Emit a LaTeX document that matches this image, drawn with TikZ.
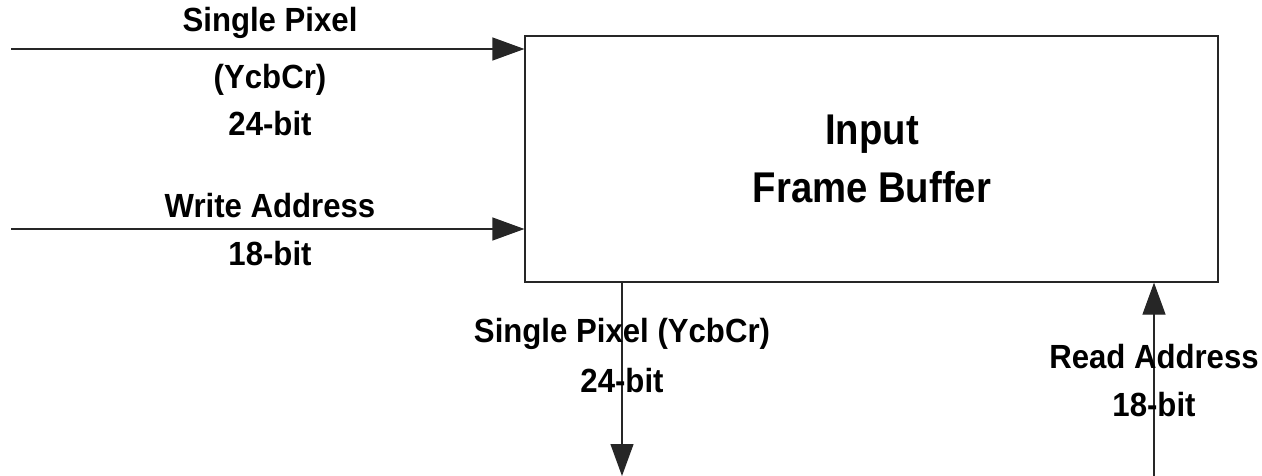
\documentclass[tikz,border=0pt]{standalone}
\usepackage{fontspec}
\setmainfont{Liberation Sans}
\newfontfamily\narrowbold[FakeStretch=0.93]{Liberation Sans Bold}
\newfontfamily\titlebold[FakeStretch=0.89]{Liberation Sans Bold}
\usetikzlibrary{arrows.meta}
\begin{document}
\begin{tikzpicture}[x=1pt,y=-1pt,
  lbl/.style={font=\narrowbold\fontsize{33.5}{38}\selectfont, inner sep=0pt, anchor=base},
  title/.style={font=\titlebold\fontsize{43}{48}\selectfont, inner sep=0pt, anchor=base},
  wire/.style={line width=1.2pt, draw=black!85},
  sig/.style={wire, -{Triangle[length=32pt,width=23pt]}}]
  \useasboundingbox (0,0) rectangle (1262,476);

  % memory block
  \node[draw=black!85, line width=1.2pt, rectangle, minimum width=693pt, minimum height=246pt,
        inner sep=0pt] (buf) at (871.5,159) {};
  \node[title] (t1) at (872,145) {Input};
  \node[title] (t2) at (872,203) {Frame Buffer};

  % write side
  \coordinate (in1) at (11,49);
  \coordinate (in2) at (11,229);
  \draw[sig] (in1) -- (buf.west |- in1);
  \draw[sig] (in2) -- (buf.west |- in2);
  \node[lbl] (l1) at (270,32) {Single Pixel};
  \node[lbl] (l2) at (270,89) {(YcbCr)};
  \node[lbl] (l3) at (270,136) {24-bit};
  \node[lbl] (l4) at (270,218) {Write Address};
  \node[lbl] (l5) at (270,265) {18-bit};

  % pixel output
  \coordinate (out) at (622,476);
  \draw[sig] (buf.south -| out) -- (out);
  \node[lbl] (o1) at (622,342) {Single Pixel (YcbCr)};
  \node[lbl] (o2) at (622,392) {24-bit};

  % read address
  \coordinate (rd) at (1154,476);
  \draw[sig] (rd) -- (buf.south -| rd);
  \node[lbl] (r1) at (1154,368) {Read Address};
  \node[lbl] (r2) at (1154,416) {18-bit};
\end{tikzpicture}
\end{document}
